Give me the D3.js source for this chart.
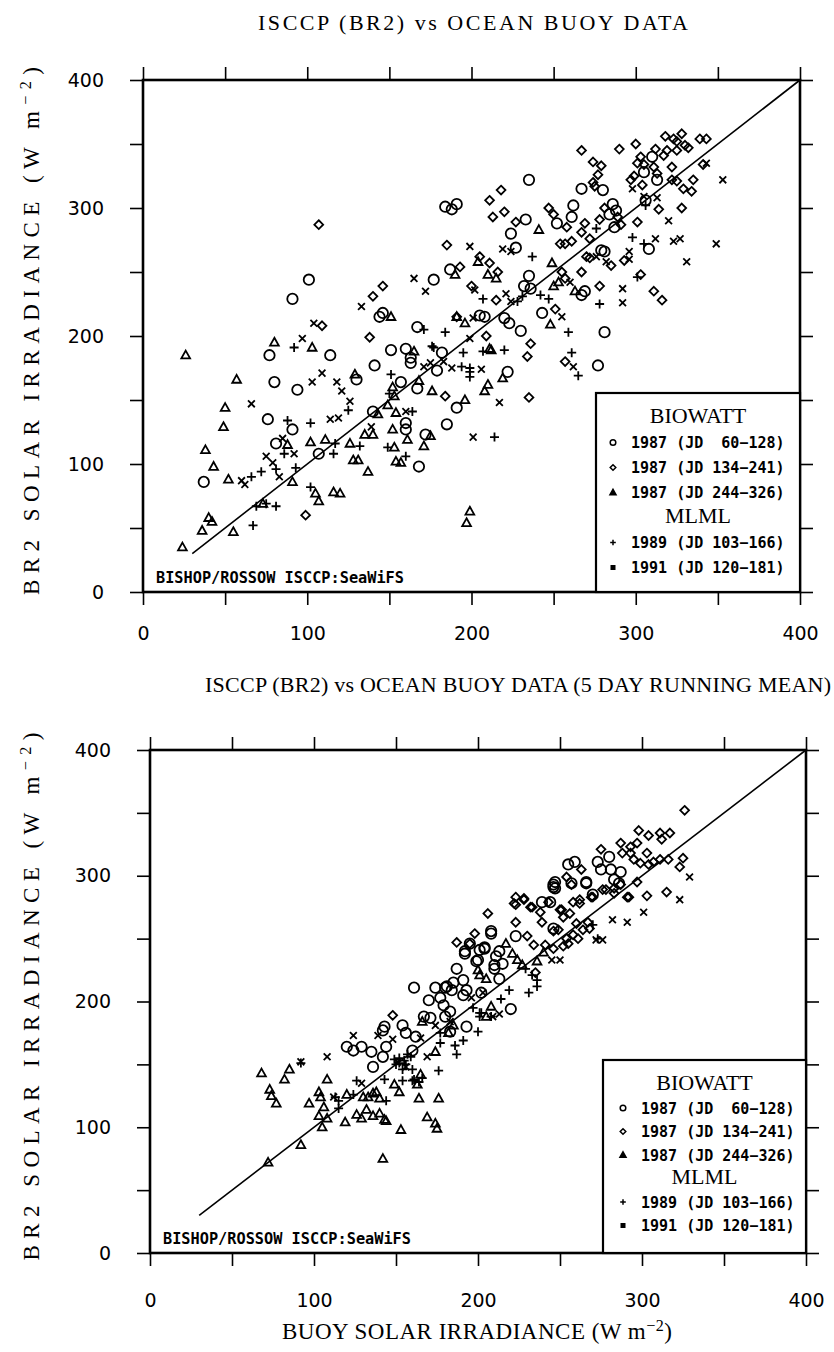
<!DOCTYPE html>
<html>
<head>
<meta charset="utf-8">
<script src="https://cdn.jsdelivr.net/npm/d3@7"></script>
<style>
  body { margin: 0; background: #fff; }
  svg { display: block; }
</style>
</head>
<body>
<div id="chart"></div>
<script>
// ---- data: [buoy, BR2] in W m-2 ----

// upper panel: daily values
var dayJD60 = [[77,185],[114,185],[151,189],[80,164],[94,158],[130,166],[141,177],[76,135],[91,127],[81,116],[107,108],[37,86],[140,141],
  [101,244],[91,229],[144,215],[146,218],[160,190],[163,183],[163,179],[182,187],[230,204],[281,203],[277,177],[179,173],[222,172],
  [157,164],[167,159],[191,144],[160,132],[160,127],[185,131],[172,123],[168,98],[310,340],[305,328],[313,322],[235,322],[267,315],
  [280,314],[306,306],[286,303],[288,298],[284,295],[287,285],[262,302],[252,288],[261,293],[233,291],[184,301],[188,299],[191,303],
  [224,280],[227,269],[308,268],[279,267],[281,266],[269,235],[267,232],[243,218],[223,210],[220,214],[235,247],[236,237],[232,239],
  [187,252],[177,244],[205,216],[208,215],[167,207]];
var dayJD134 = [[138,199],[99,60],[107,287],[140,231],[146,239],[109,208],[209,200],[236,194],[234,184],[257,180],[184,153],[235,152],
  [318,356],[323,354],[328,358],[325,352],[330,349],[332,347],[339,354],[343,354],[267,345],[290,346],[300,350],[312,346],[319,345],
  [325,345],[317,341],[303,340],[301,335],[305,334],[311,332],[322,332],[313,327],[297,322],[299,325],[322,322],[325,321],[304,318],
  [329,315],[335,322],[334,313],[341,334],[274,336],[279,333],[277,326],[274,320],[275,317],[314,299],[328,300],[301,289],[281,300],
  [289,293],[291,287],[278,291],[247,300],[250,295],[258,285],[269,288],[218,314],[211,306],[213,293],[220,297],[227,289],[267,281],
  [272,276],[254,272],[257,272],[261,274],[185,271],[272,261],[270,262],[285,255],[267,250],[293,259],[303,248],[311,235],[316,228],
  [278,239],[255,250],[257,245],[251,221],[215,228],[211,257],[216,250],[193,254],[200,239],[205,262],[191,215]];
var dayJD244 = [[26,185],[80,195],[103,191],[57,166],[129,170],[50,144],[49,129],[88,115],[38,111],[43,98],[52,88],[91,86],[102,117],
  [111,119],[126,116],[128,103],[131,103],[137,94],[140,123],[135,123],[143,139],[153,113],[154,102],[154,140],[152,127],[149,146],
  [152,160],[153,153],[105,77],[107,71],[116,78],[120,77],[73,69],[40,58],[42,55],[36,48],[55,47],[24,35],[151,215],[165,188],
  [212,189],[219,167],[168,165],[176,157],[210,162],[208,157],[196,150],[161,119],[175,122],[171,114],[157,101],[199,63],[197,54],
  [241,283],[263,235],[250,239],[253,242],[249,257],[248,209],[204,258],[210,248],[215,245],[190,248],[191,215],[196,210],[211,190]];
var day1989 = [[92,191],[151,170],[88,134],[102,132],[125,142],[66,90],[72,94],[81,96],[86,108],[93,97],[116,108],[117,116],[132,114],
  [149,113],[150,155],[102,82],[69,67],[75,69],[81,67],[67,52],[176,192],[195,187],[207,188],[220,189],[259,203],[261,187],[265,169],
  [194,176],[199,175],[199,172],[199,168],[164,141],[160,106],[214,121],[306,302],[276,284],[237,262],[301,246],[278,225],[247,229],
  [242,232],[228,227],[231,231],[207,229],[184,203],[171,205],[177,191],[298,277],[305,272]];
var day1991 = [[97,198],[103,164],[109,171],[118,164],[121,157],[66,147],[114,135],[119,136],[126,149],[60,87],[62,84],[75,106],[79,101],
  [83,90],[85,120],[92,108],[139,129],[133,223],[104,210],[199,198],[262,176],[171,176],[175,179],[183,180],[188,175],[206,174],
  [217,148],[160,141],[201,121],[298,315],[353,322],[305,309],[313,308],[320,290],[219,268],[224,266],[199,270],[312,276],[323,274],
  [327,276],[349,272],[276,262],[282,258],[296,266],[296,260],[331,258],[292,237],[292,226],[260,242],[255,215],[221,233],[224,227],
  [165,245],[172,235],[202,236],[201,214],[343,335]];

// lower panel: 5 day running mean
var runJD60 = [[120,164],[124,161],[129,164],[135,160],[136,148],[142,156],[144,164],[143,180],[142,177],[154,181],[156,175],[160,161],
  [162,172],[161,211],[167,188],[171,187],[170,201],[177,203],[180,211],[183,192],[187,226],[185,215],[191,217],[199,232],[193,209],
  [202,207],[193,180],[192,238],[201,241],[210,229],[195,246],[192,240],[204,242],[208,256],[208,254],[223,252],[200,233],[213,218],
  [210,226],[215,230],[211,236],[213,240],[220,194],[191,205],[184,209],[181,212],[174,211],[179,197],[180,188],[183,176],[239,279],
  [244,279],[246,291],[247,295],[257,294],[266,294],[270,285],[255,309],[259,311],[266,295],[247,290],[246,293],[246,258],[204,243],
  [273,311],[280,315],[275,305],[281,305],[287,303],[283,297],[286,294]];
var runJD134 = [[148,189],[187,247],[198,254],[206,270],[223,263],[223,283],[228,281],[223,277],[230,252],[234,245],[239,263],[238,271],
  [233,275],[251,273],[256,270],[258,279],[262,278],[249,257],[246,256],[252,267],[270,283],[276,289],[283,290],[287,293],[291,283],
  [260,262],[264,257],[267,263],[268,258],[261,250],[258,253],[254,250],[255,246],[241,245],[246,242],[252,244],[235,223],[326,352],
  [311,334],[317,334],[312,329],[298,336],[304,332],[303,318],[325,314],[323,307],[315,287],[303,284],[292,283],[297,295],[287,326],
  [293,323],[297,326],[288,318],[293,318],[295,313],[299,310],[307,311],[311,313],[316,313],[304,309],[275,321],[269,283],[278,289],
  [283,286],[254,299],[263,305],[257,293],[262,281],[222,278],[228,282],[232,275],[243,279],[250,273],[195,246]];
var runJD244 = [[68,143],[73,130],[74,125],[77,119],[82,138],[85,146],[92,86],[72,72],[97,119],[103,128],[104,124],[106,116],[103,109],
  [105,100],[108,107],[119,104],[120,126],[108,138],[126,110],[129,107],[132,114],[130,124],[133,124],[136,127],[138,128],[140,123],
  [136,109],[140,111],[143,106],[144,105],[142,75],[153,98],[152,128],[149,134],[163,134],[165,142],[164,123],[176,123],[169,108],
  [174,103],[175,99],[166,184],[174,160],[182,175],[185,181],[205,218],[200,225],[201,221],[208,196],[205,188],[217,246],[221,238],
  [224,233],[227,229],[240,239],[236,232]];
var run1989 = [[92,151],[113,124],[115,121],[115,115],[124,126],[126,137],[144,121],[149,154],[152,151],[156,150],[159,156],[154,146],
  [160,146],[161,138],[164,136],[166,139],[176,145],[177,175],[177,167],[186,165],[187,158],[191,169],[200,176],[201,191],[208,188],
  [143,138],[154,137],[160,137],[229,226],[233,221],[236,217],[236,212],[231,207],[219,209],[214,202],[197,195],[202,191],[201,188],
  [270,261],[273,250],[150,150],[152,155],[155,153],[157,158]];
var run1991 = [[92,152],[108,156],[112,124],[129,135],[148,170],[139,173],[124,173],[165,171],[169,156],[174,181],[183,184],[196,203],
  [203,207],[213,190],[209,188],[245,233],[250,233],[276,249],[272,249],[282,265],[291,263],[329,299],[323,281],[301,271],[151,152],
  [156,148]];

var legendLabels = ["1987 (JD  60\u2212128)", "1987 (JD 134\u2212241)", "1987 (JD 244\u2212326)", "1989 (JD 103\u2212166)", "1991 (JD 120\u2212181)"];
var legendHeads = ["BIOWATT", "MLML"];
var markerTypes = ["circle", "diamond", "triangle", "plus", "cross"];
var tickValues = d3.range(0, 401, 50);
var oneToOne = [[30, 30], [400, 400]];

var svg = d3.select("#chart").append("svg")
    .attr("width", 834)
    .attr("height", 1352);

var serif = "'Liberation Serif', 'DejaVu Serif', serif";
var mono = "'DejaVu Sans Mono', 'Liberation Mono', monospace";
var sans = "'DejaVu Sans', 'Liberation Sans', sans-serif";

function markerPath(type, s) {
  if (type === "circle") return d3.arc()({innerRadius: 0, outerRadius: s, startAngle: 0, endAngle: 2 * Math.PI});
  if (type === "diamond") return "M0," + (-s) + "L" + s + ",0L0," + s + "L" + (-s) + ",0Z";
  if (type === "triangle") return "M0," + (-s) + "L" + (s * 0.95) + "," + (s * 0.7) + "L" + (-s * 0.95) + "," + (s * 0.7) + "Z";
  if (type === "plus") return "M" + (-s) + ",0H" + s + "M0," + (-s) + "V" + s;
  return "M" + (-s) + "," + (-s) + "L" + s + "," + s + "M" + (-s) + "," + s + "L" + s + "," + (-s);
}
var markerSize = {circle: 5.2, diamond: 4.4, triangle: 4.6, plus: 4.5, cross: 3.4};

function unitsText(sel, label) {
  sel.append("tspan").text(label + " (W m");
  sel.append("tspan").attr("dy", -8).attr("font-size", "0.7em").text("\u22122");
  sel.append("tspan").attr("dy", 8).text(")");
}

function drawPanel(p) {
  var x = d3.scaleLinear().domain([0, 400]).range([p.left, p.right]);
  var y = d3.scaleLinear().domain([0, 400]).range([p.bottom, p.top]);
  var g = svg.append("g");

  // title
  g.append("text")
    .attr("x", p.titleX).attr("y", p.titleY)
    .attr("text-anchor", "middle")
    .attr("font-family", serif).attr("font-size", 22)
    .attr("textLength", p.titleLen).attr("lengthAdjust", "spacing")
    .text(p.title);

  // y title
  g.append("text")
    .attr("transform", "translate(39," + ((p.top + p.bottom) / 2 - 5) + ") rotate(-90)")
    .attr("text-anchor", "middle")
    .attr("font-family", serif).attr("font-size", 23)
    .attr("textLength", 528).attr("lengthAdjust", "spacing")
    .call(unitsText, "BR2 SOLAR IRRADIANCE");

  // axes, ticks out on every side
  var fmt = function(d) { return d % 100 ? "" : d; };
  g.append("g").attr("transform", "translate(" + p.left + ",0)")
    .call(d3.axisLeft(y).tickValues(tickValues).tickSize(13).tickPadding(26).tickFormat(fmt));
  g.append("g").attr("transform", "translate(0," + p.bottom + ")")
    .call(d3.axisBottom(x).tickValues(tickValues).tickSize(13).tickPadding(p.xPad).tickFormat(fmt));
  g.append("g").attr("transform", "translate(0," + p.top + ")")
    .call(d3.axisTop(x).tickValues(tickValues).tickSize(13).tickFormat(""));
  g.append("g").attr("transform", "translate(" + p.right + ",0)")
    .call(d3.axisRight(y).tickValues(tickValues).tickSize(13).tickFormat(""));
  g.selectAll(".domain").remove();
  g.selectAll(".tick line").attr("stroke", "#000").attr("stroke-width", 1.6);
  g.selectAll(".tick text").attr("fill", "#000")
    .attr("font-family", sans).attr("font-size", 19);

  g.append("rect")
    .attr("x", p.left).attr("y", p.top)
    .attr("width", p.right - p.left).attr("height", p.bottom - p.top)
    .attr("fill", "none").attr("stroke", "#000").attr("stroke-width", 2.6);

  // 1:1 line
  g.append("path")
    .attr("d", d3.line().x(function(d) { return x(d[0]); }).y(function(d) { return y(d[1]); })(oneToOne))
    .attr("fill", "none").attr("stroke", "#000").attr("stroke-width", 1.6);

  // points
  p.series.forEach(function(data, i) {
    var type = markerTypes[i];
    g.append("g").selectAll("path")
      .data(data)
      .join("path")
        .attr("transform", function(d) { return "translate(" + x(d[0]) + "," + y(d[1]) + ")"; })
        .attr("d", markerPath(type, markerSize[type]))
        .attr("fill", "none")
        .attr("stroke", "#000")
        .attr("stroke-width", 1.8);
  });

  // credit
  g.append("text")
    .attr("x", p.left + 13).attr("y", p.bottom - 9)
    .attr("font-family", mono).attr("font-weight", "bold").attr("font-size", 15)
    .attr("textLength", 248).attr("lengthAdjust", "spacingAndGlyphs")
    .text("BISHOP/ROSSOW ISCCP:SeaWiFS");

  // legend box
  var L = p.legend.x, T = p.legend.y;
  g.append("rect")
    .attr("x", L).attr("y", T)
    .attr("width", p.right - L).attr("height", p.bottom - T)
    .attr("fill", "#fff").attr("stroke", "#000").attr("stroke-width", 2.2);

  var rows = [
    {head: legendHeads[0]}, {i: 0}, {i: 1}, {i: 2},
    {head: legendHeads[1]}, {i: 3}, {i: 4}
  ];
  rows.forEach(function(r, k) {
    var ry = T + 30 + k * p.legend.step;
    if (r.head) {
      g.append("text")
        .attr("x", (L + p.right) / 2).attr("y", ry)
        .attr("text-anchor", "middle")
        .attr("font-family", serif).attr("font-size", 22)
        .text(r.head);
      return;
    }
    var type = markerTypes[r.i];
    if (type === "cross") {
      g.append("rect").attr("x", L + p.legend.mx - 2.5).attr("y", ry - 8).attr("width", 5).attr("height", 5).attr("fill", "#000");
    } else {
      g.append("path")
        .attr("transform", "translate(" + (L + p.legend.mx) + "," + (ry - 5.5) + ")")
        .attr("d", markerPath(type, type === "triangle" ? 3.2 : 2.8))
        .attr("fill", type === "triangle" ? "#000" : "none")
        .attr("stroke", "#000").attr("stroke-width", 1.5);
    }
    g.append("text")
      .attr("x", L + p.legend.mx + 18).attr("y", ry)
      .attr("font-family", mono).attr("font-weight", "bold").attr("font-size", 15)
      .style("white-space", "pre")
      .text(legendLabels[r.i]);
  });

  if (p.xTitle) {
    g.append("text")
      .attr("x", 477).attr("y", 1339)
      .attr("text-anchor", "middle")
      .attr("font-family", serif).attr("font-size", 23)
      .attr("textLength", 390).attr("lengthAdjust", "spacing")
      .call(unitsText, p.xTitle);
  }
}

drawPanel({
  left: 143, right: 800, top: 80, bottom: 592, xPad: 22,
  title: "ISCCP (BR2) vs OCEAN BUOY DATA", titleX: 473, titleY: 30, titleLen: 430,
  series: [dayJD60, dayJD134, dayJD244, day1989, day1991],
  legend: {x: 596, y: 393, step: 25, mx: 17}
});

drawPanel({
  left: 150, right: 806, top: 750, bottom: 1253, xPad: 28,
  title: "ISCCP (BR2) vs OCEAN BUOY DATA (5 DAY RUNNING MEAN)", titleX: 518, titleY: 692, titleLen: 626,
  series: [runJD60, runJD134, runJD244, run1989, run1991],
  legend: {x: 603, y: 1060, step: 23.5, mx: 20},
  xTitle: "BUOY SOLAR IRRADIANCE"
});
</script>
</body>
</html>
